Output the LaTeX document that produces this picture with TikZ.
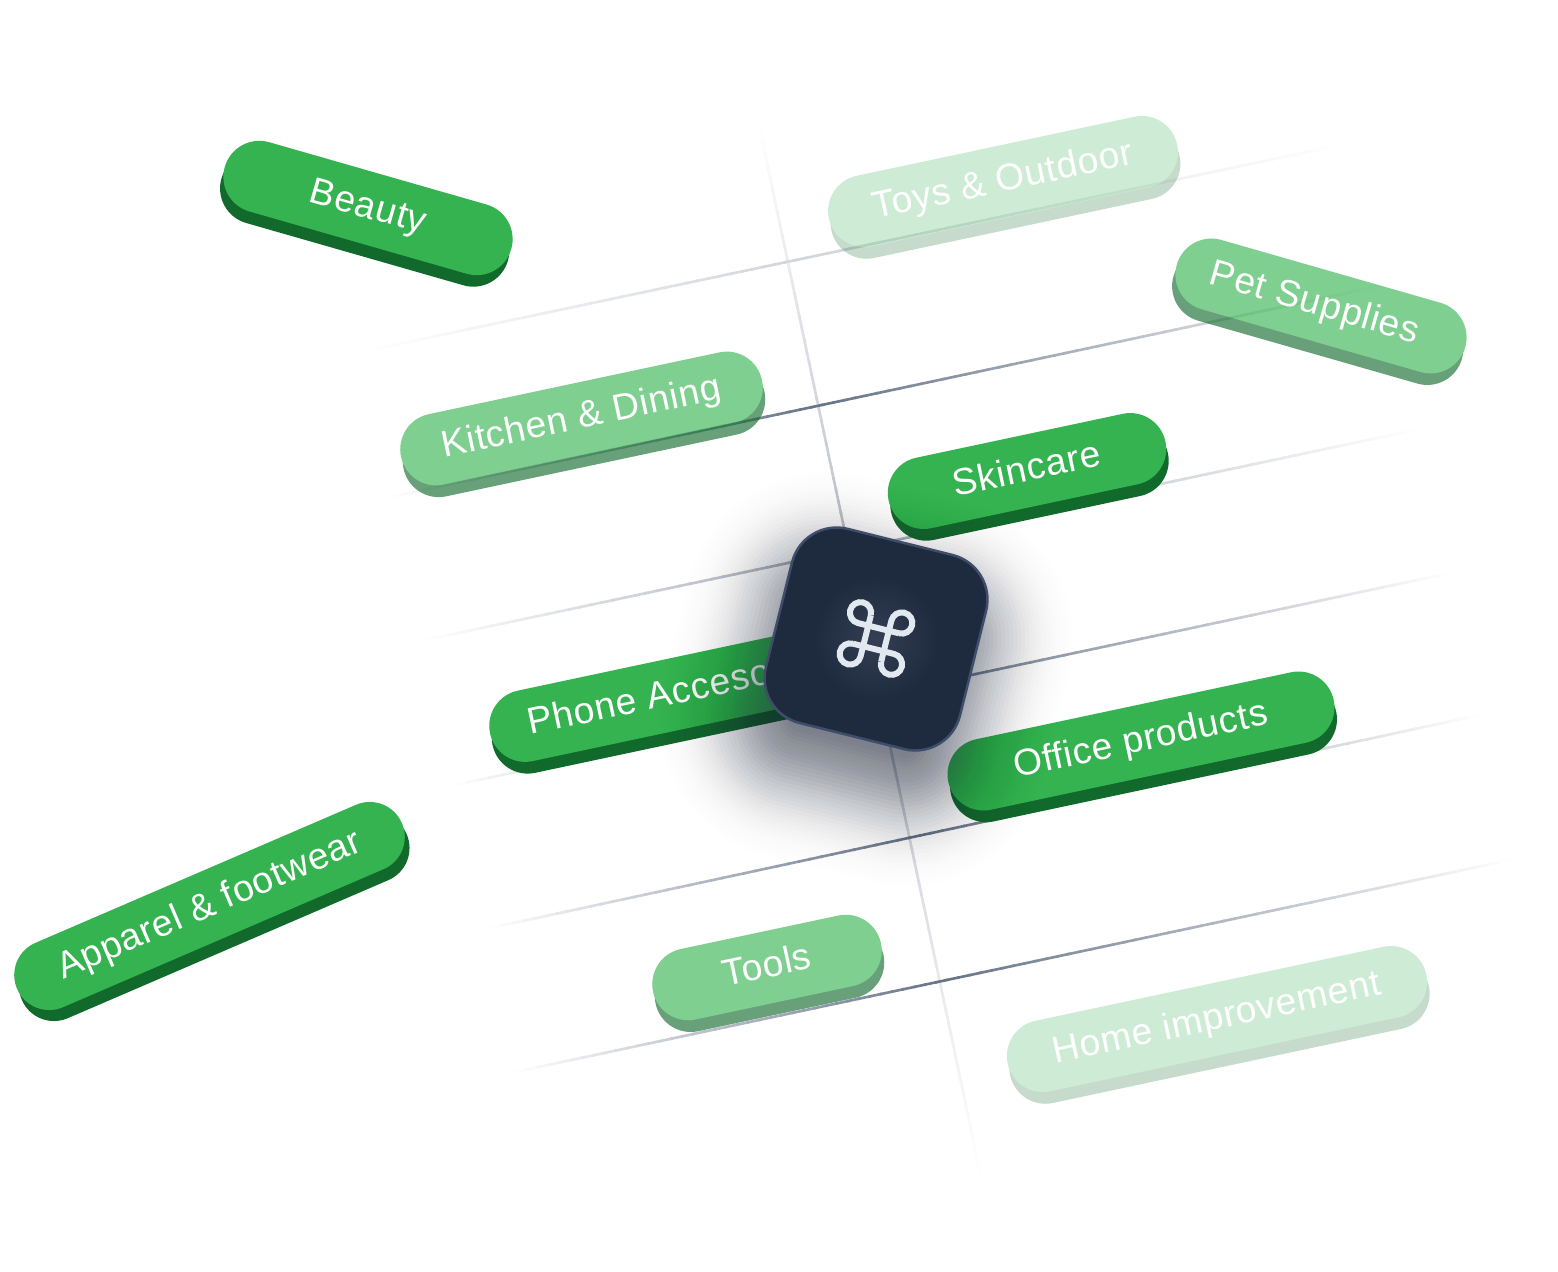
\documentclass[tikz,border=0pt]{standalone}
\usepackage{fontspec}
\setmainfont[LetterSpace=2.0]{Liberation Sans}
\definecolor{pillgreen}{HTML}{34B350}
\definecolor{pillside}{HTML}{116A2B}
\definecolor{slateline}{HTML}{5E6B80}
\definecolor{cmdfill}{HTML}{1E2A3E}
\definecolor{cmdedge}{HTML}{3F4D6B}
\definecolor{cmdglow}{HTML}{343F54}
\definecolor{cmdicon}{HTML}{E2E8F0}
\definecolor{haze}{HTML}{232B40}
\tikzset{
  gridline/.style={line width=1.3pt,line cap=butt},
  pillbase/.style={inner sep=0pt,outer sep=0pt,draw=none},
  pilltext/.style={text=white,font=\fontsize{18.6}{20}\selectfont,text height=10pt,text depth=0pt,align=center},
}
% x1 y1 x2 y2 peak-percent
\newcommand\fadeline[5]{%
  \foreach \i in {0,...,89}{%
    \pgfmathsetmacro\ta{\i/90}%
    \pgfmathsetmacro\tb{(\i+1.2)/90}%
    \pgfmathsetmacro\tm{(\i+.5)/90}%
    \pgfmathsetmacro\wt{\tm<.43 ? \tm/.43 : (1-\tm)/.57}%
    \pgfmathsetmacro\pc{#5*\wt}%
    \draw[gridline,color=slateline!\pc!white] ({#1+(#3-#1)*\ta},{#2+(#4-#2)*\ta}) -- ({#1+(#3-#1)*\tb},{#2+(#4-#2)*\tb});
  }}
% opacity name cx cy L h rot text
\newcommand\pillnode[8]{%
  \pgfmathsetmacro\sx{#3+12*sin(#7)}%
  \pgfmathsetmacro\sy{#4+12*cos(#7)}%
  \pgfmathsetlengthmacro\pw{#5*.5pt}%
  \pgfmathsetlengthmacro\ph{#6*.5pt}%
  \pgfmathsetlengthmacro\pr{#6*.25pt-.02pt}%
  \begin{scope}[transparency group,opacity=#1]
    \node[pillbase,fill=pillside,rotate=#7,minimum width=\pw,minimum height=\ph,rounded corners=\pr] (#2-side) at (\sx,\sy) {};
    \node[pillbase,pilltext,fill=pillgreen,rotate=#7,minimum width=\pw,minimum height=\ph,rounded corners=\pr] (#2) at (#3,#4) {#8};
  \end{scope}}
\begin{document}
\begin{tikzpicture}[x=.5pt,y=-.5pt]
\useasboundingbox (0,0) rectangle (1558,1272);
\fill[white] (0,0) rectangle (1558,1272);
% grid lines
\fadeline{760}{130}{980}{1172}{46}
\fadeline{370}{350}{1350}{143}{28}
\fadeline{390}{497}{1385}{285}{95}
\fadeline{425}{640}{1415}{430}{60}
\fadeline{455}{785}{1450}{573}{95}
\fadeline{490}{928}{1480}{715}{95}
\fadeline{515}{1072}{1510}{860}{95}
% pills
\pillnode{1}{beauty}{368}{208}{298}{72}{-16}{Beauty}
\pillnode{.24}{toys}{1003}{181.5}{356}{72}{12}{Toys \& Outdoor}
\pillnode{.63}{pet}{1321}{306}{300}{72}{-16}{Pet Supplies\hspace*{7pt}}
\pillnode{.63}{kitchen}{581.5}{418.5}{369}{72}{12}{Kitchen \& Dining}
\pillnode{1}{skincare}{1027}{471}{283}{72}{12}{Skincare}
\pillnode{1}{phone}{694}{690}{417}{72}{12}{Phone Accesories\hspace*{14pt}}
\pillnode{1}{office}{1141}{741}{394}{72}{12}{Office products}
\pillnode{1}{apparel}{209.5}{906}{419}{70}{23.3}{Apparel \& footwear}
\pillnode{.63}{tools}{767}{967.5}{233}{72}{12}{Tools}
\pillnode{.24}{home}{1217}{1019}{428}{72}{12}{Home improvement}
% soft shadow of the command key
\foreach \d in {-92,-88,...,112}{
  \pgfmathsetlengthmacro\hs{(200+2*\d)*.5pt}
  \pgfmathsetlengthmacro\hr{max(46+\d,6)*.5pt}
  \pgfmathsetmacro\ho{.036*exp(-(\d/40)*(\d/40)/2)}
  \node[pillbase,fill=haze,fill opacity=\ho,rotate=-14,
        minimum width=\hs,minimum height=\hs,
        rounded corners=\hr] (haze\d) at (866,679) {};
}
% command key
\node[pillbase,fill=cmdfill,draw=cmdedge,line width=1.25pt,rotate=-14,
      minimum width=100pt,minimum height=100pt,rounded corners=23pt] (cmd) at (876,639) {};
\shade[inner color=cmdglow,outer color=cmdfill] (876,639) circle (62);
\begin{scope}[shift={(876,638.5)},rotate=-14,x=1.77pt,y=1.77pt]
  \foreach \a in {0,90,180,270}{
    \draw[cmdicon,line width=3pt,rotate=\a] (3,-6) -- (3,6) arc (180:-90:3);
  }
\end{scope}
\end{tikzpicture}
\end{document}
